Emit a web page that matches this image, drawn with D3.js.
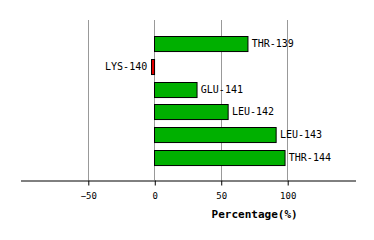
<!DOCTYPE html>
<html>
<head>
<meta charset="utf-8">
<script src="https://cdn.jsdelivr.net/npm/d3@7"></script>
<style>
  body { margin: 0; background: #fff; }
  svg { display: block; }
</style>
</head>
<body>
<div id="chart"></div>
<script>
const residues = ["THR-139", "LYS-140", "GLU-141", "LEU-142", "LEU-143", "THR-144"];
const percentages = [70.3, -2.3, 32, 55.4, 91.5, 98.2];
const tickValues = [-50, 0, 50, 100];

const width = 374;
const height = 240;

const xScale = d3.scaleLinear([-101, 151], [20, 355]);
const yScale = d3
  .scaleBand(residues, [24.6, 176.4])
  .paddingInner(0.34)
  .paddingOuter(0.5);

const svg = d3
  .select("#chart")
  .append("svg")
  .attr("width", width)
  .attr("height", height);

// grid lines
svg
  .append("g")
  .selectAll("line")
  .data(tickValues)
  .join("line")
  .attr("x1", (d) => Math.round(xScale(d)) + 0.5)
  .attr("x2", (d) => Math.round(xScale(d)) + 0.5)
  .attr("y1", 20)
  .attr("y2", 180)
  .attr("stroke", "#999")
  .attr("stroke-width", 1);

// bars
svg
  .append("g")
  .selectAll("rect")
  .data(percentages)
  .join("rect")
  .attr("x", (d) => Math.round(xScale(Math.min(0, d))) + 0.5)
  .attr("y", (d, i) => Math.round(yScale(residues[i])) + 0.5)
  .attr("width", (d) => Math.abs(xScale(d) - xScale(0)))
  .attr("height", yScale.bandwidth())
  .attr("fill", (d) => (d < 0 ? "#e00000" : "#00b000"))
  .attr("stroke", "#000")
  .attr("stroke-width", 1);

// labels
svg
  .append("g")
  .selectAll("text")
  .data(percentages)
  .join("text")
  .attr("x", (d) => (d < 0 ? xScale(d) - 4 : xScale(d) + 4))
  .attr("y", (d, i) => yScale(residues[i]) + yScale.bandwidth() / 2)
  .attr("dy", "0.36em")
  .attr("text-anchor", (d) => (d < 0 ? "end" : "start"))
  .style("font-family", "DejaVu Sans Mono, monospace")
  .style("font-size", "10px")
  .text((d, i) => residues[i]);

// x axis
const bottomAxis = d3
  .axisBottom(xScale)
  .tickValues(tickValues)
  .tickSize(5)
  .tickSizeOuter(0)
  .tickPadding(7)
  .tickFormat(d3.format("d"));

const axis = svg
  .append("g")
  .attr("transform", "translate(0.5, 180.5)")
  .call(bottomAxis);
axis.select(".domain").attr("stroke", "#000");
axis
  .selectAll("text")
  .style("font-family", "DejaVu Sans Mono, monospace")
  .style("font-size", "9px")
  .attr("fill", "#000");

svg
  .append("text")
  .attr("x", (xScale(0) + xScale(151)) / 2)
  .attr("y", 218)
  .attr("text-anchor", "middle")
  .style("font-family", "DejaVu Sans Mono, monospace")
  .style("font-size", "11px")
  .style("font-weight", "bold")
  .text("Percentage(%)");
</script>
</body>
</html>
